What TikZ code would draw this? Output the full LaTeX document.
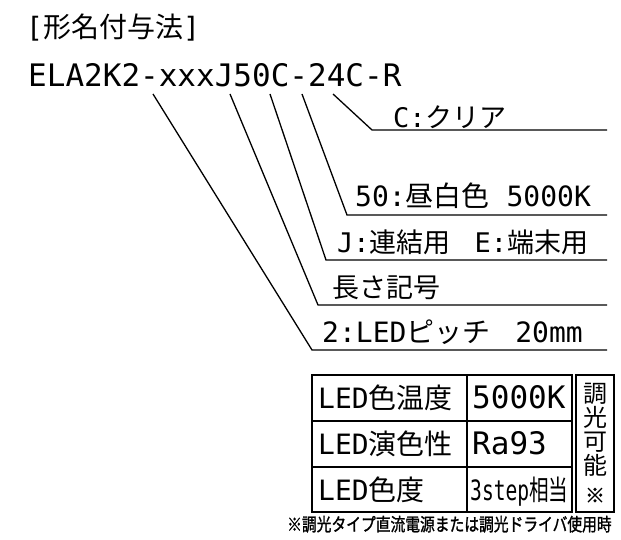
\documentclass[tikz,border=0pt]{standalone}
\usepackage{fontspec}
\usepackage{graphicx}
\setmainfont{DejaVu Sans Mono}
\newfontfamily\jp{Noto Sans CJK JP}
\newfontfamily\jpb{Noto Sans CJK JP}[FakeBold=1.5]
\newcommand{\fs}[1]{\fontsize{#1}{#1}\selectfont}

\begin{document}
\begin{tikzpicture}[x=1pt,y=-1pt,
  leader/.style={line width=1.3pt},
  frame/.style={line width=1.3pt},
  lbl/.style={anchor=base west, inner sep=0pt, font=\fs{28}}]
\useasboundingbox (0,0) rectangle (621,540);

% Title and model code
\node[lbl] (title) at (26,38) {[{\jp 形名付与法}]};
\node[lbl, font=\fs{31}] (code) at (28,87) {ELA2K2-xxxJ50C-24C-R};

% Labels
\node[lbl, font=\fs{27}] (clear) at (393,128) {C:{\jp クリア}};
\node[lbl] (color) at (355,207) {50:{\jp 昼白色} 5000K};
\node[lbl, font=\fs{27}] (joint) at (337,252) {J:{\jp 連結用}\hspace{24pt}E:{\jp 端末用}};
\node[lbl, font=\fs{27}] (length) at (332,297) {\jp 長さ記号};
\node[lbl] (pitch) at (322,342) {2:LED{\jp ピッチ}\hspace{8pt} 20mm};

% Leader lines
\coordinate (s0) at (153,94);
\coordinate (s1) at (230,94);
\coordinate (s2) at (270,94);
\coordinate (s3) at (302,94);
\coordinate (s4) at (333,94);
\coordinate (k0) at (312,350);
\coordinate (k1) at (318,305);
\coordinate (k2) at (326,260);
\coordinate (k3) at (347,215);
\coordinate (k4) at (372,130);
\draw[leader] (s0) -- (k0) -- (k0 -| 607,0);
\draw[leader] (s1) -- (k1) -- (k1 -| 607,0);
\draw[leader] (s2) -- (k2) -- (k2 -| 607,0);
\draw[leader] (s3) -- (k3) -- (k3 -| 607,0);
\draw[leader] (s4) -- (k4) -- (k4 -| 607,0);

% Spec table
\draw[frame] (312,375) rectangle (572,512);
\draw[frame] (312,421) -- (572,421);
\draw[frame] (312,467) -- (572,467);
\draw[frame] (467,375) -- (467,512);
\draw[frame] (576,375) rectangle (614,512);

\node[lbl] (temp) at (318,408) {LED{\jp 色温度}};
\node[lbl] (cri) at (318,454) {LED{\jp 演色性}};
\node[lbl] (chroma) at (318,500) {LED{\jp 色度}};
\node[lbl, font=\fs{31}] (tempv) at (472,408) {5000K};
\node[lbl, font=\fs{31}] (criv) at (472,454) {Ra93};
\node[lbl] (chromav) at (470,500) {\scalebox{0.7}[1]{3step{\jp 相当}}};
\node[align=center, inner sep=0pt, font=\jp\fs{24}] (dim) at (595,443)
  {調\\光\\可\\能\\[4pt]{\jpb\fs{20}※}};

% Note
\node[lbl, font=\jpb\fs{18}] (note) at (287,531)
  {\scalebox{0.82}[1]{※調光タイプ直流電源または調光ドライバ使用時}};

\end{tikzpicture}
\end{document}
